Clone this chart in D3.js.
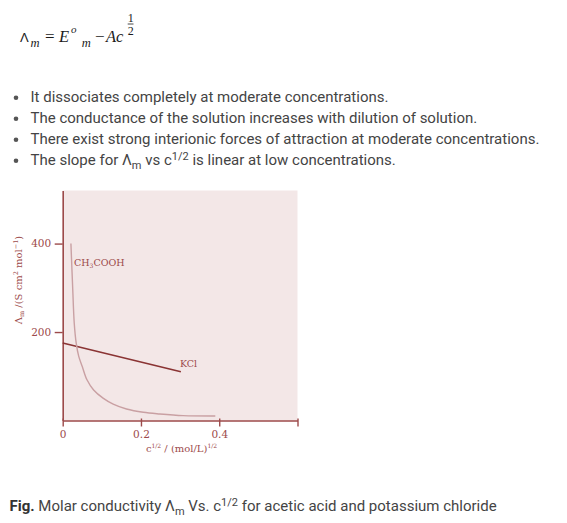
<!DOCTYPE html>
<html><head><meta charset="utf-8">
<script src="https://cdn.jsdelivr.net/npm/d3@7"></script>
<style>
html,body{margin:0;padding:0;background:#fff;}
svg{display:block;}
</style></head><body>
<svg id="c" width="567" height="523"></svg>
<script>
// ---- data ----
const bulletLines = [
  "It dissociates completely at moderate concentrations.",
  "The conductance of the solution increases with dilution of solution.",
  "There exist strong interionic forces of attraction at moderate concentrations."
];
const xTickValues = [0, 0.2, 0.4, 0.6];
const xTickLabels = ["0", "0.2", "0.4", ""];
const yTickValues = [200, 400];
const yTickLabels = ["200", "400"];
const kclX = [0, 0.302];
const kclY = [175, 110];
const aceticX = [0.021, 0.0255, 0.0295, 0.0345, 0.041, 0.05, 0.062, 0.079, 0.104, 0.129, 0.163, 0.206, 0.248, 0.308, 0.39];
const aceticY = [400, 300, 220, 175, 145, 122, 92, 69, 50, 37, 26, 18.5, 14.7, 11, 10.2];

const svg = d3.select("#c");
const AX = "#9c4a4a";
const SERIF = "'DejaVu Serif', serif";

// ---- formula ----
const fg = svg.append("g").attr("font-family","'Liberation Serif', serif").attr("fill","#1a1a1a");
fg.append("text").attr("x",20).attr("y",41.7).attr("font-family","'Liberation Sans'").attr("font-size",13).text("Λ");
fg.append("text").attr("x",30.5).attr("y",46.7).attr("font-size",12.5).attr("font-style","italic").text("m");
fg.append("text").attr("x",45).attr("y",41.7).attr("font-size",17).text("=");
fg.append("text").attr("x",59).attr("y",41.7).attr("font-size",16.5).attr("font-style","italic").text("E");
fg.append("text").attr("x",71).attr("y",33.3).attr("font-size",11).attr("font-style","italic").text("o");
fg.append("text").attr("x",81.7).attr("y",46.7).attr("font-size",12.5).attr("font-style","italic").text("m");
fg.append("text").attr("x",95).attr("y",41.7).attr("font-size",17).text("−");
fg.append("text").attr("x",106).attr("y",41.7).attr("font-size",16.5).attr("font-style","italic").text("Ac");
fg.append("text").attr("x",127.8).attr("y",21.7).attr("font-size",12).text("1");
fg.append("line").attr("x1",127.7).attr("x2",133.5).attr("y1",24).attr("y2",24).attr("stroke","#1a1a1a").attr("stroke-width",0.8);
fg.append("text").attr("x",127.8).attr("y",35).attr("font-size",12).text("2");

// ---- bullets ----
const bg = svg.append("g").attr("font-family","Roboto, sans-serif").attr("font-size",15).attr("fill","#444");
const baseY = [101.5, 122.5, 143.5, 164.5];
bulletLines.forEach((t,i)=>{
  bg.append("circle").attr("cx",16).attr("cy",baseY[i]-3.8).attr("r",2.3).attr("fill","#555");
  bg.append("text").attr("x",30.5).attr("y",baseY[i]).text(t);
});
bg.append("circle").attr("cx",16).attr("cy",baseY[3]-3.8).attr("r",2.3).attr("fill","#555");
const l4 = bg.append("text").attr("x",30.5).attr("y",baseY[3]);
l4.append("tspan").text("The slope for Λ");
l4.append("tspan").attr("font-size",11).attr("dy",4).text("m");
l4.append("tspan").attr("dy",-4).text(" vs c");
l4.append("tspan").attr("font-size",11).attr("dy",-5).text("1/2");
l4.append("tspan").attr("dy",5).text(" is linear at low concentrations.");

// ---- chart ----
const x = d3.scaleLinear().domain([0,0.6]).range([62.7,297.5]);
const y = d3.scaleLinear().domain([0,520]).range([420.5,190.5]);

svg.append("rect").attr("x",x(0)).attr("y",y(520)).attr("width",x(0.6)-x(0)).attr("height",y(0)-y(520)).attr("fill","#f3e7e7");

const xa = svg.append("g").attr("transform",`translate(0,${y(0)})`)
  .call(d3.axisBottom(x).tickValues(xTickValues).tickSize(6).tickSizeOuter(0).tickFormat((d,i)=>xTickLabels[i]));
xa.select(".domain").attr("stroke",AX).attr("stroke-width",1.6);
xa.selectAll(".tick line").attr("stroke",AX).attr("stroke-width",1.4).attr("y1",-2);
xa.selectAll(".tick text").attr("fill",AX).attr("font-family",SERIF).attr("font-size",10.5).attr("y",17).attr("dy",0);

const ya = svg.append("g").attr("transform",`translate(${x(0)},0)`)
  .call(d3.axisLeft(y).tickValues(yTickValues).tickSize(8).tickSizeOuter(0).tickFormat((d,i)=>yTickLabels[i]));
ya.select(".domain").attr("stroke",AX).attr("stroke-width",1.6);
ya.selectAll(".tick line").attr("stroke",AX).attr("stroke-width",1.4);
ya.selectAll(".tick text").attr("fill",AX).attr("font-family",SERIF).attr("font-size",10.5).attr("x",-11.5);

// y label
const yl = svg.append("text").attr("transform","translate(22,280) rotate(-90)").attr("text-anchor","middle")
  .attr("font-family",SERIF).attr("font-size",10).attr("fill",AX);
yl.append("tspan").text("Λ");
yl.append("tspan").attr("font-size",6.5).attr("dy",2).text("m");
yl.append("tspan").attr("dy",-2).text(" /(S cm");
yl.append("tspan").attr("font-size",6.5).attr("dy",-4).text("2");
yl.append("tspan").attr("dy",4).text(" mol");
yl.append("tspan").attr("font-size",6.5).attr("dy",-4).text("−1");
yl.append("tspan").attr("dy",4).text(")");

// x label
const xl = svg.append("text").attr("x",181.5).attr("y",452).attr("text-anchor","middle")
  .attr("font-family",SERIF).attr("font-size",10).attr("fill",AX);
xl.append("tspan").text("c");
xl.append("tspan").attr("font-size",6).attr("dy",-4).text("1/2");
xl.append("tspan").attr("dy",4).text(" / (mol/L)");
xl.append("tspan").attr("font-size",6).attr("dy",-4).text("1/2");

// lines
const line = d3.line().x(d=>x(d[0])).y(d=>y(d[1]));
svg.append("path").datum(kclX.map((v,i)=>[v,kclY[i]])).attr("d",line)
  .attr("fill","none").attr("stroke","#8a3434").attr("stroke-width",1.6);
svg.append("path").datum(aceticX.map((v,i)=>[v,aceticY[i]])).attr("d",line.curve(d3.curveCatmullRom.alpha(0.5)))
  .attr("fill","none").attr("stroke","#c9a0a3").attr("stroke-width",1.4);

// series labels
svg.append("text").attr("x",180).attr("y",366.5).attr("font-family",SERIF).attr("font-size",9.5).attr("fill",AX).text("KCl");
const ch = svg.append("text").attr("x",74).attr("y",266).attr("font-family",SERIF).attr("font-size",9.5).attr("fill",AX);
ch.append("tspan").text("CH");
ch.append("tspan").attr("font-size",6).attr("dy",2).text("3");
ch.append("tspan").attr("dy",-2).text("COOH");

// ---- caption ----
const cap = svg.append("text").attr("x",9.5).attr("y",510.7).attr("font-family","Roboto, sans-serif").attr("font-size",15).attr("fill","#444");
cap.append("tspan").attr("font-weight","bold").attr("fill","#333").text("Fig.");
cap.append("tspan").text(" Molar conductivity Λ");
cap.append("tspan").attr("font-size",11).attr("dy",4).text("m");
cap.append("tspan").attr("dy",-4).text(" Vs. c");
cap.append("tspan").attr("font-size",11).attr("dy",-5).text("1/2");
cap.append("tspan").attr("dy",5).text(" for acetic acid and potassium chloride");
</script>
</body></html>
